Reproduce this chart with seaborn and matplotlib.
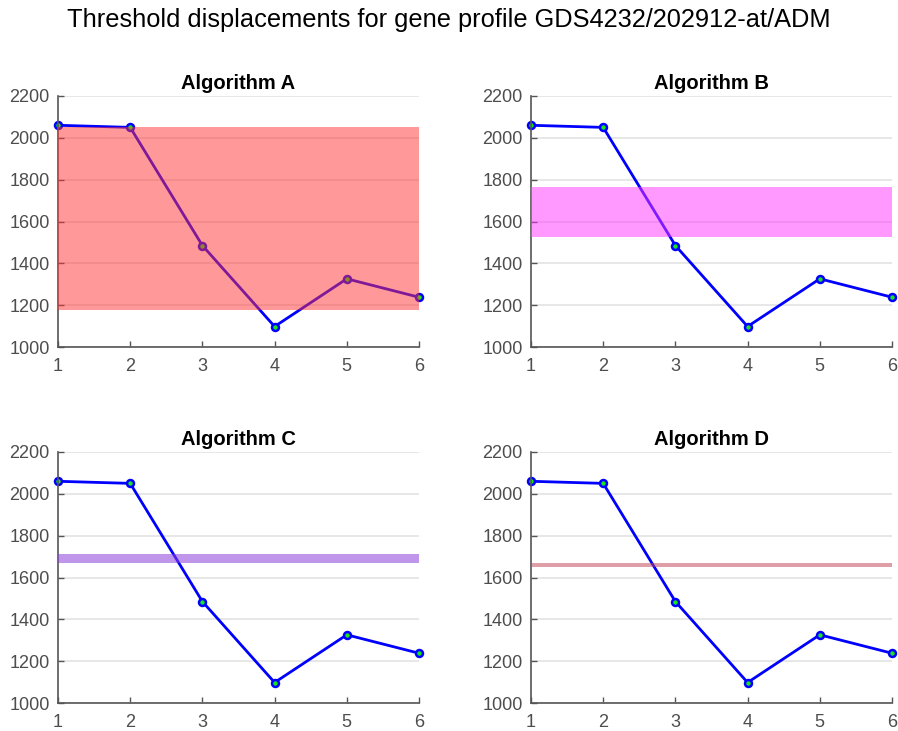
import matplotlib
matplotlib.use("Agg")
import matplotlib.pyplot as plt
import seaborn as sns
import pandas as pd

x_vals = [1, 2, 3, 4, 5, 6]
profile = [2060, 2050, 1485, 1098, 1326, 1238]
titles = ["Algorithm A", "Algorithm B", "Algorithm C", "Algorithm D"]
band_low = [1175, 1526, 1670, 1648]
band_high = [2050, 1765, 1713, 1670]
band_colors = [(1.0, 0.2, 0.2, 0.5), (1.0, 0.2, 1.0, 0.5), (0.55, 0.25, 0.85, 0.55), (0.75, 0.25, 0.33, 0.5)]
y_ticks = [1000, 1200, 1400, 1600, 1800, 2000, 2200]
title_text = "Threshold displacements for gene profile GDS4232/202912-at/ADM"

sns.set_theme(style="white")
plt.rcParams['font.family'] = ['Liberation Sans', 'DejaVu Sans']

df = pd.DataFrame({"x": x_vals, "y": profile})

fig = plt.figure(figsize=(8.98, 7.31), dpi=100)
W, H = 898, 731
positions = [(58, 96), (531, 96), (58, 452), (531, 452)]
aw, ah = 361, 251

for i, (px, py) in enumerate(positions):
    ax = fig.add_axes([px / W, 1 - (py + ah) / H, aw / W, ah / H])
    sns.lineplot(data=df, x="x", y="y", ax=ax, color="blue", linewidth=2,
                 marker="o", markersize=5, markerfacecolor=(0.1, 0.9, 0.1),
                 markeredgecolor="blue", markeredgewidth=1.8, zorder=2,
                 clip_on=False)
    ax.axhspan(band_low[i], band_high[i], color=band_colors[i], linewidth=0, zorder=3)
    ax.set_xlim(1, 6)
    ax.set_ylim(1000, 2200)
    ax.set_xticks(x_vals)
    ax.set_yticks(y_ticks)
    ax.yaxis.grid(True, color="#e3e3e3", linewidth=1.2, zorder=0)
    ax.set_axisbelow(True)
    ax.set_xlabel("")
    ax.set_ylabel("")
    ax.set_title(titles[i], fontsize=14.5, fontweight="bold", pad=5, color="black")
    for s in ["top", "right"]:
        ax.spines[s].set_visible(False)
    for s in ["left", "bottom"]:
        ax.spines[s].set_color("#555555")
        ax.spines[s].set_linewidth(1.2)
    ax.tick_params(direction="in", length=4, width=1, colors="#555555",
                   labelcolor="#4d4d4d", labelsize=13, left=True, bottom=True,
                   pad=6)
    ax.tick_params(axis="x", pad=8)

fig.text(0.5, 1 - 20 / H, title_text, ha="center", va="center", fontsize=18.3,
         color="black")
fig.savefig("out.png", dpi=100)
